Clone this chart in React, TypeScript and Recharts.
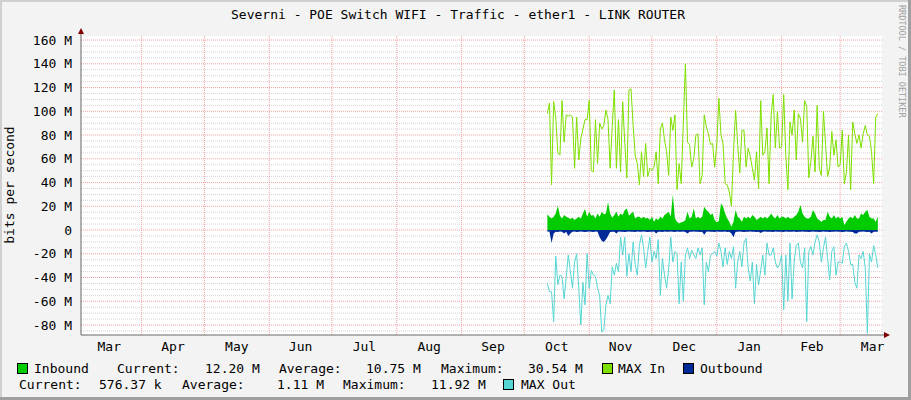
import { ComposedChart, Area, Line, XAxis, YAxis, CartesianGrid } from 'recharts'

// day index of the first sample (day 0 = left edge of the plot, early March)
const FIRST_DAY = 223

const MAX_IN = [
  98, 107, 38, 108, 95, 65, 63, 109, 74, 97,
  96, 97, 95, 52, 95, 59, 77, 85, 93, 93,
  109, 50, 49, 93, 56, 90, 85, 88, 101, 93,
  52, 87, 118, 52, 93, 49, 108, 74, 44, 118,
  119, 88, 63, 56, 38, 66, 45, 73, 45, 52,
  50, 53, 66, 39,
  85, 90, 76, 66, 46, 95,
  84, 97, 34, 56, 39, 90, 140, 74, 72, 53,
  60, 80, 81, 39, 46, 97, 87, 81, 72, 73,
  53, 72, 111, 80, 73, 39, 38, 32, 20, 66,
  101, 72, 48, 84, 84, 53, 69, 62, 52, 42,
  66, 35, 109, 63, 66, 86, 39,
  97, 114, 69, 100, 69, 70, 114, 63, 34, 91,
  80, 101, 59, 98, 94, 74, 109, 104, 44, 58,
  79, 49, 105, 52, 46, 100, 72, 45, 53, 83,
  63, 76, 53, 55, 84, 39, 49, 80, 34, 91,
  81, 73, 80, 69, 81, 88, 80, 79, 66, 39,
  95, 98,
]

const INBOUND = [
  13.2, 11.2, 9.8, 11.2, 14.0, 20.5, 12.1, 9.8, 12.6, 11.2,
  10.4, 9.3, 10.4, 8.4, 9.8, 11.2, 9.8, 14.0, 17.7, 11.2,
  15.4, 12.1, 12.6, 9.8, 14.0, 11.2, 15.4, 13.2, 14.0, 23.3,
  14.0, 10.4, 12.6, 15.4, 11.2, 14.0, 12.6, 16.8, 18.2, 12.1,
  14.0, 15.4, 9.8, 11.2, 11.2, 9.8, 11.2, 9.8, 10.4, 8.4,
  11.2, 7.0, 9.8, 8.4,
  11.2, 9.8, 12.6, 14.0, 15.4, 11.2,
  30.0, 9.8, 7.0, 5.6, 6.5, 7.0, 8.4, 15.4, 9.8, 11.2,
  18.2, 9.8, 11.2, 9.8, 11.2, 19.6, 16.8, 15.4, 12.6, 14.0,
  8.4, 6.5, 7.6, 22.5, 19.6, 14.0, 9.8, 7.0, 2.8, 7.0,
  16.8, 11.2, 9.8, 7.0, 11.2, 9.8, 11.2, 9.8, 12.6, 11.2,
  8.4, 9.8, 11.2, 9.8, 11.2, 9.8, 11.2,
  14.0, 11.2, 9.8, 12.6, 9.8, 11.2, 11.2, 9.8, 11.2, 9.8,
  9.8, 11.2, 12.6, 15.4, 21.1, 14.0, 11.2, 9.8, 9.8, 11.2,
  16.8, 14.0, 9.8, 8.4, 7.0, 8.4, 8.4, 15.4, 11.2, 9.8,
  12.6, 9.8, 11.2, 9.8, 11.2, 4.2, 7.0, 9.8, 11.2, 9.8,
  12.6, 9.8, 9.8, 14.0, 12.6, 15.4, 16.8, 11.2, 9.8, 9.8,
  7.0, 11.2,
]

const OUTBOUND = [
  -1.5, -1.2, -11, -3, -1.4, -1.6, -1.3, -1.5, -3, -1.4,
  -5, -3, -1.5, -1.2, -1.6, -1.4, -1.3, -1.5, -1.7, -1.4,
  -1.3, -1.5, -1.6, -1.2, -1.5, -6, -9, -10, -8, -5,
  -1.6, -1.4, -1.5, -3, -1.3, -1.5, -1.4, -1.6, -1.5, -1.3,
  -1.5, -1.4, -1.7, -1.3, -1.5, -1.4, -1.2, -1.5, -1.6, -1.4,
  -1.5, -1.3, -3, -1.5,
  -1.4, -1.6, -1.3, -1.5, -1.4, -1.2,
  -1.5, -1.6, -1.3, -1.4, -1.5, -1.3, -1.6, -3, -1.4, -1.5,
  -1.3, -1.5, -1.4, -1.6, -1.5, -4, -1.4, -1.3, -1.5, -1.4,
  -1.6, -1.3, -1.5, -1.4, -1.5, -1.3, -1.6, -1.5, -3, -6,
  -1.5, -1.4, -1.3, -1.5, -1.6, -1.4, -1.5, -1.3, -1.4, -1.5,
  -1.6, -1.4, -2.5, -1.5, -1.3, -1.4, -1.5,
  -1.4, -1.6, -1.3, -1.5, -1.4, -1.5, -1.6, -1.3, -1.5, -1.4,
  -1.5, -1.3, -1.6, -1.4, -1.5, -1.3, -1.5, -1.4, -1.6, -1.5,
  -1.3, -1.5, -1.4, -1.6, -1.5, -1.3, -1.4, -1.5, -1.6, -1.4,
  -1.5, -1.3, -1.5, -1.4, -1.6, -1.5, -1.3, -1.4, -1.5, -1.6,
  -3, -3, -1.4, -1.5, -1.3, -1.5, -1.6, -1.4, -3, -1.5,
  -1.4, -1.5,
]

const MAX_OUT = [
  -45, -52, -52, -77, -22, -46, -38, -39, -58, -40,
  -21, -35, -49, -27, -20, -49, -80, -44, -63, -20,
  -49, -34, -38, -39, -49, -55, -86, -84, -63, -55,
  -62, -31, -38, -28, -35, -6, -21, -6, -39, -20,
  -35, -10, -29, -38, -13, -4, -15, -32, -18, -6,
  -27, -18, -24, -8,
  -55, -24, -38, -49, -33, -6,
  -27, -18, -20, -62, -27, -60, -21, -15, -24, -17,
  -21, -24, -15, -21, -15, -63, -27, -35, -21, -20,
  -18, -22, -11, -18, -31, -15, -29, -18, -24, -14,
  -49, -27, -18, -31, -11, -7, -32, -43, -27, -62,
  -29, -46, -34, -21, -38, -11, -21,
  -21, -15, -27, -32, -29, -21, -67, -21, -60, -11,
  -58, -27, -13, -11, -27, -32, -15, -77, -18, -14,
  -21, -10, -4, -10, -27, -15, -6, -24, -42, -18,
  -14, -38, -27, -27, -28, -14, -11, -18, -29, -29,
  -44, -49, -21, -24, -18, -32, -87, -20, -27, -13,
  -21, -32,
]

const Y_TICKS = [-80, -60, -40, -20, 0, 20, 40, 60, 80, 100, 120, 140, 160]
const MONTH_STARTS = [29, 59, 90, 120, 151, 182, 212, 243, 273, 304, 335, 363]
const MONTH_LABELS = ['Mar', 'Apr', 'May', 'Jun', 'Jul', 'Aug', 'Sep', 'Oct', 'Nov', 'Dec', 'Jan', 'Feb', 'Mar']
const MONTH_LABEL_DAYS = [13.5, 44, 74.5, 105, 135.5, 166.5, 197, 227.5, 258, 288.5, 319.5, 349.5, 378.5]

const LEGEND_ROW1 = [
  { x: 34, text: 'Inbound' },
  { x: 117, text: 'Current:' },
  { x: 205, text: '12.20 M' },
  { x: 279, text: 'Average:' },
  { x: 366, text: '10.75 M' },
  { x: 441, text: 'Maximum:' },
  { x: 528, text: '30.54 M' },
  { x: 618, text: 'MAX In' },
  { x: 700, text: 'Outbound' },
]
const LEGEND_ROW2 = [
  { x: 19, text: 'Current:' },
  { x: 99, text: '576.37 k' },
  { x: 182, text: 'Average:' },
  { x: 277, text: '1.11 M' },
  { x: 343, text: 'Maximum:' },
  { x: 431, text: '11.92 M' },
  { x: 521, text: 'MAX Out' },
]

const C_IN = '#00cc00'
const C_MAX_IN = '#7ee000'
const C_OUT = '#002a97'
const C_MAX_OUT = '#55d6d3'

const LEGEND_BOXES = [
  { x: 17, y: 363, color: C_IN },
  { x: 602, y: 363, color: C_MAX_IN },
  { x: 683, y: 363, color: C_OUT },
  { x: 503, y: 379, color: C_MAX_OUT },
]

const FONT = '"DejaVu Sans Mono", monospace'
const Y_DOMAIN = [-88.4, 163.4]
const X_DOMAIN = [0, 383]

const rows = INBOUND.map((v, i) => ({
  day: FIRST_DAY + i,
  inbound: v,
  maxIn: MAX_IN[i],
  outbound: OUTBOUND[i],
  maxOut: MAX_OUT[i],
}))

// minor grid every 5 M between the major lines
const minorGrid: number[] = []
for (let v = -85; v <= 160; v += 5) {
  if (v % 20 !== 0) minorGrid.push(v)
}

export default function App() {
  return (
    <div style={{ position: 'fixed', left: 0, top: 0, width: 911, height: 400, background: '#f3f3f3' }}>
      <ComposedChart
        width={911}
        height={400}
        data={rows}
        margin={{ top: 36, right: 29, bottom: 45, left: 0 }}
      >
        <XAxis
          type="number"
          dataKey="day"
          domain={X_DOMAIN}
          ticks={MONTH_LABEL_DAYS}
          interval={0}
          tickFormatter={(v) => MONTH_LABELS[MONTH_LABEL_DAYS.indexOf(v)] ?? ''}
          tickLine={false}
          tickSize={0}
          tickMargin={7}
          height={20}
          axisLine={{ stroke: '#666666' }}
          tick={{ fill: '#000', fontSize: 13, fontFamily: FONT }}
          allowDataOverflow
        />
        <YAxis
          type="number"
          domain={Y_DOMAIN}
          ticks={Y_TICKS}
          interval={0}
          tickFormatter={(v) => (v === 0 ? '0' : `${v} M`)}
          width={81}
          tickLine={false}
          tickSize={2}
          tickMargin={7}
          axisLine={{ stroke: '#666666' }}
          tick={{ fill: '#000', fontSize: 13, fontFamily: FONT }}
          allowDataOverflow
        />
        <CartesianGrid
          vertical={false}
          horizontalValues={minorGrid}
          fill="#ffffff"
          fillOpacity={1}
          stroke="#d4d4d4"
          strokeDasharray="1 1"
        />
        <CartesianGrid
          horizontalValues={Y_TICKS}
          verticalValues={MONTH_STARTS}
          stroke="#f0a0a0"
          strokeDasharray="1 1"
        />
        <Area
          type="linear"
          dataKey="inbound"
          baseValue={0}
          stroke="none"
          fill={C_IN}
          fillOpacity={1}
          isAnimationActive={false}
        />
        <Line
          type="linear"
          dataKey="maxIn"
          stroke={C_MAX_IN}
          strokeWidth={1}
          dot={false}
          isAnimationActive={false}
        />
        <Area
          type="linear"
          dataKey="outbound"
          baseValue={0}
          stroke="none"
          fill={C_OUT}
          fillOpacity={1}
          isAnimationActive={false}
        />
        <Line
          type="linear"
          dataKey="maxOut"
          stroke={C_MAX_OUT}
          strokeWidth={1}
          dot={false}
          isAnimationActive={false}
        />
      </ComposedChart>

      <svg
        width={911}
        height={400}
        style={{ position: 'absolute', left: 0, top: 0, pointerEvents: 'none' }}
        fontFamily={FONT}
        fontSize={13}
      >
        {/* frame */}
        <rect x={0} y={0} width={911} height={2} fill="#d0d0d0" />
        <rect x={0} y={0} width={2} height={400} fill="#d0d0d0" />
        <rect x={908} y={0} width={3} height={400} fill="#a0a0a0" />
        <rect x={0} y={397} width={911} height={3} fill="#a0a0a0" />

        {/* axis extensions and arrows */}
        <line x1={81} y1={36} x2={81} y2={32} stroke="#666666" />
        <polygon points="78,34 84,34 81,28" fill="#800000" />
        <line x1={882} y1={335} x2={885} y2={335} stroke="#666666" />
        <polygon points="884,332 884,338 890,335" fill="#800000" />

        <text x={458} y={19} textAnchor="middle" fill="#000">
          Severni - POE Switch WIFI - Traffic - ether1 - LINK ROUTER
        </text>
        <text x={14} y={185} textAnchor="middle" fill="#000" transform="rotate(-90 14 185)">
          bits per second
        </text>
        <text x={899} y={5} fill="#a0a0a0" fontSize={8.5} transform="rotate(90 899 5)">
          RRDTOOL / TOBI OETIKER
        </text>

        {LEGEND_BOXES.map((b) => (
          <rect key={b.x} x={b.x + 0.5} y={b.y + 0.5} width={10} height={10} fill={b.color} stroke="#000" />
        ))}
        {LEGEND_ROW1.map((t) => (
          <text key={'a' + t.x} x={t.x} y={372.5} fill="#000">
            {t.text}
          </text>
        ))}
        {LEGEND_ROW2.map((t) => (
          <text key={'b' + t.x} x={t.x} y={388.5} fill="#000">
            {t.text}
          </text>
        ))}
      </svg>
    </div>
  )
}
